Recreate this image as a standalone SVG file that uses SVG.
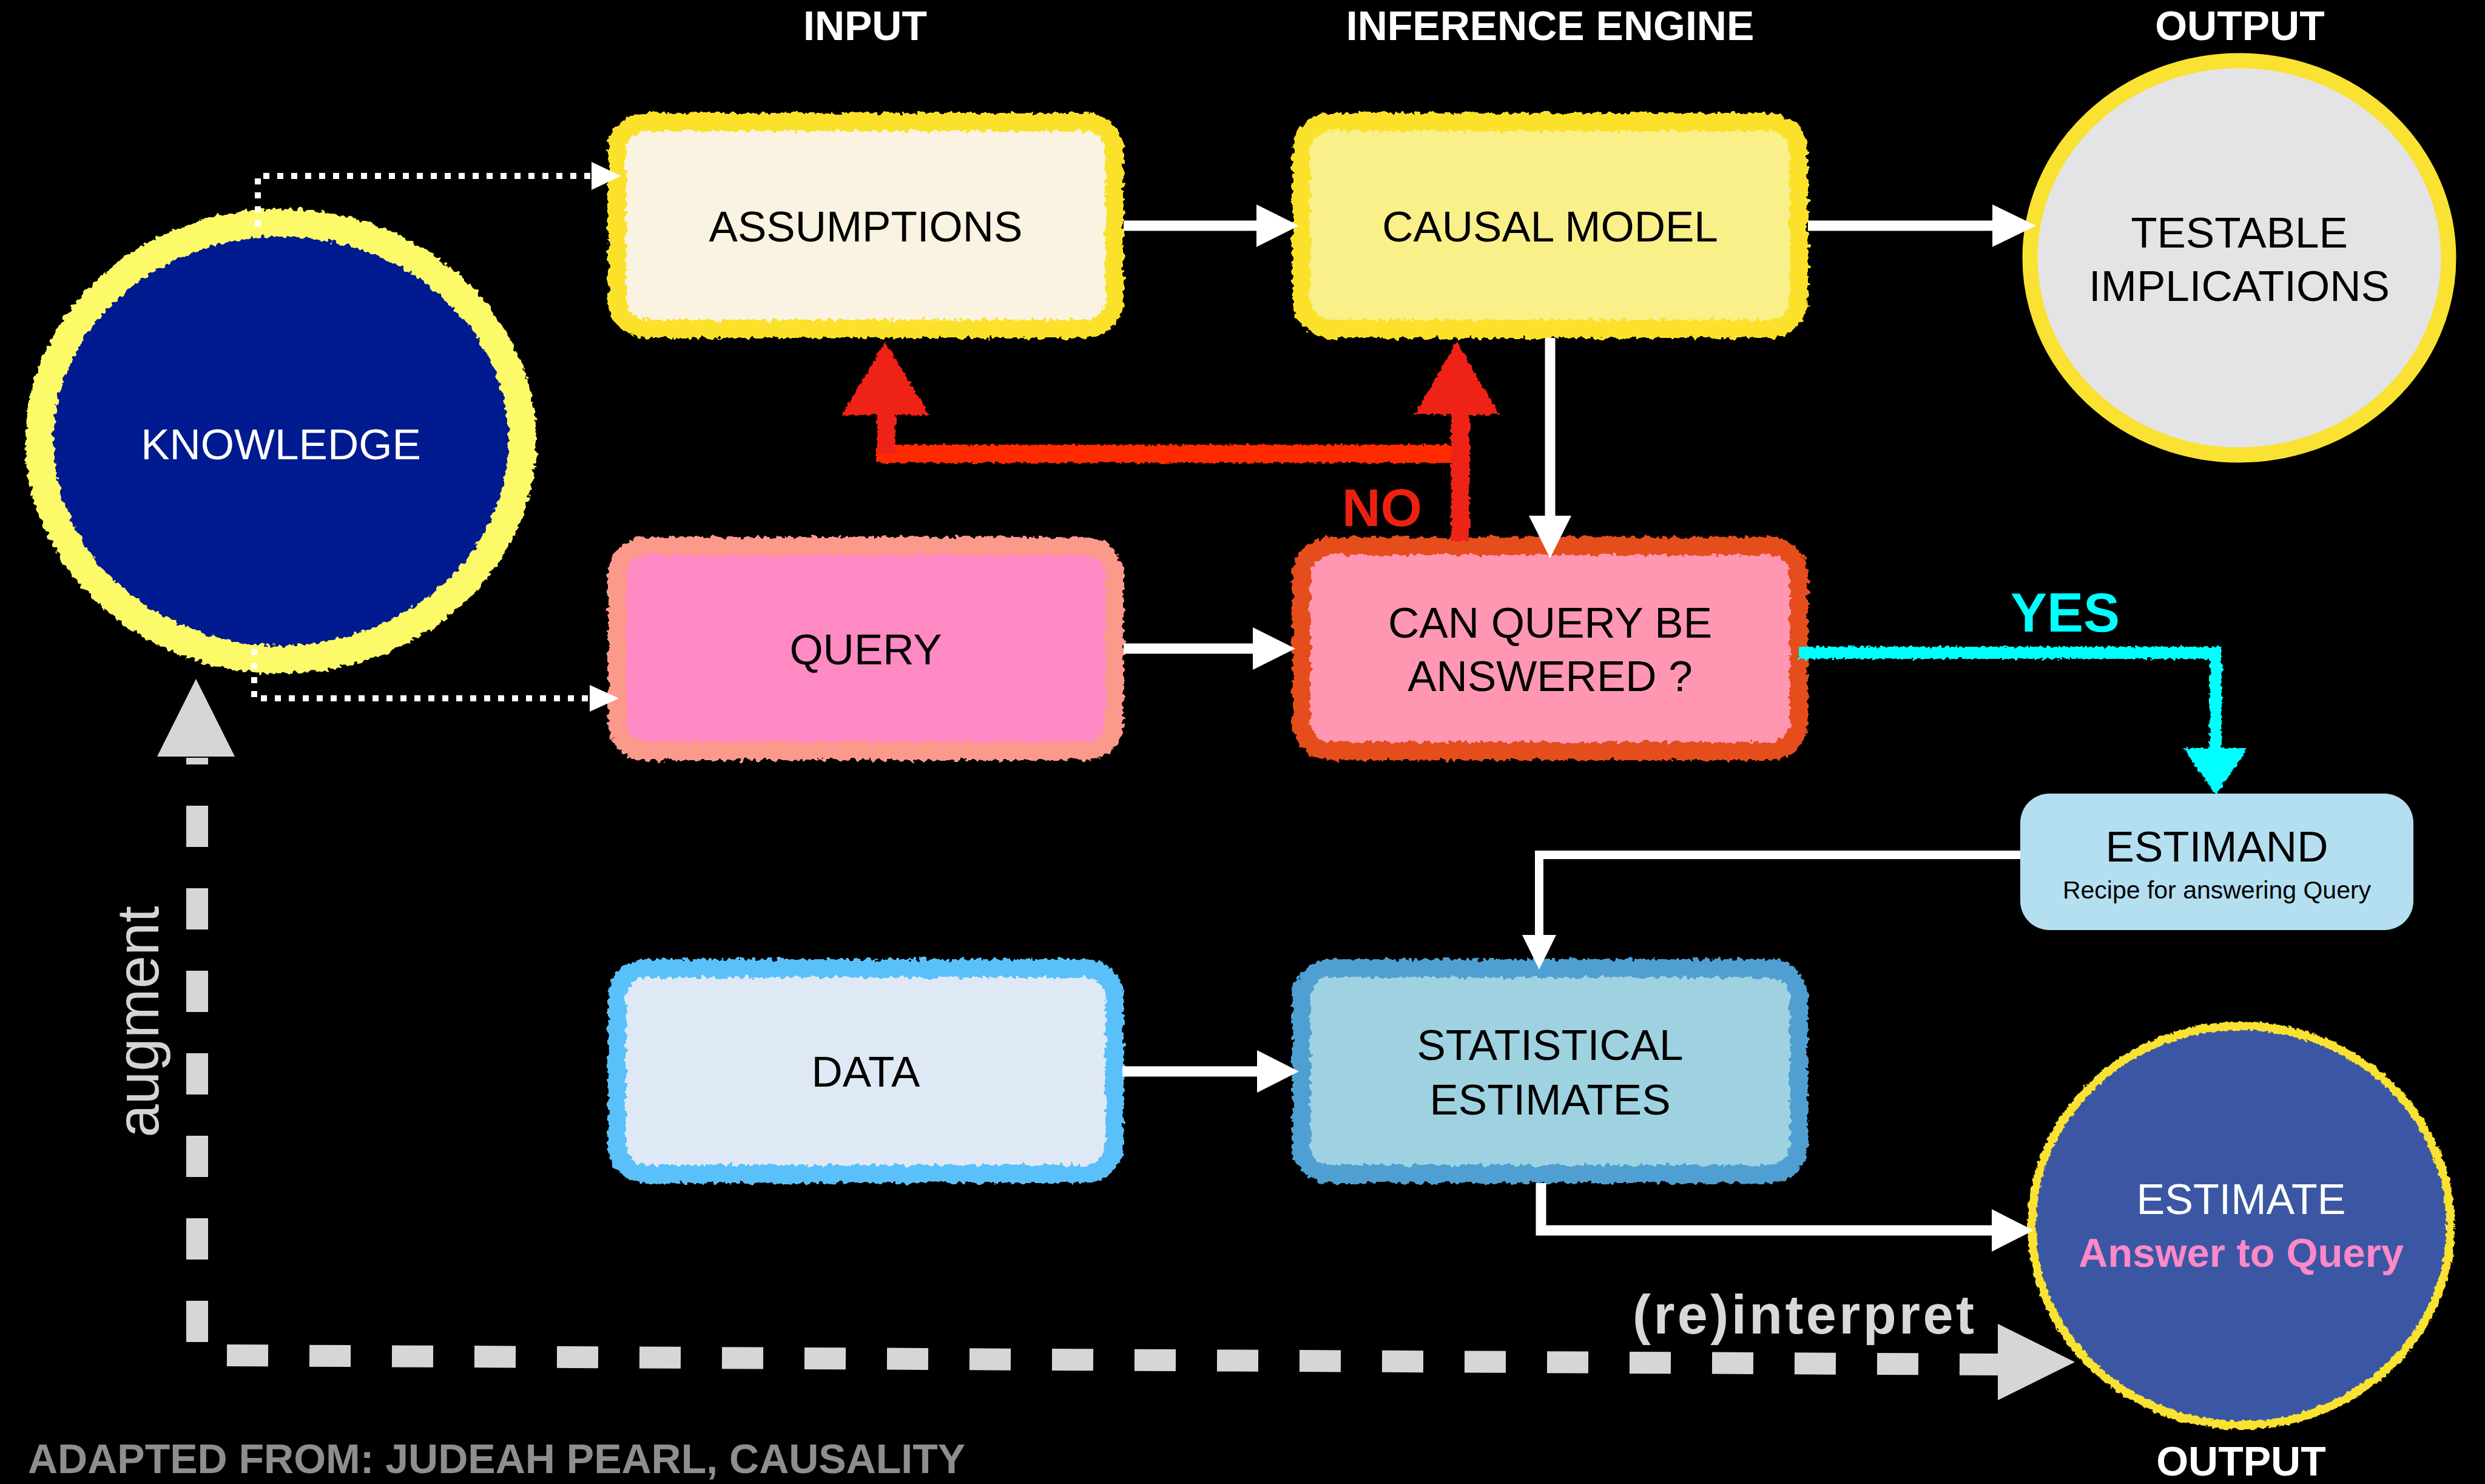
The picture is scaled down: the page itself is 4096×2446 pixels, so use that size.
<svg xmlns="http://www.w3.org/2000/svg" width="4096" height="2446" viewBox="0 0 4096 2446">
<defs>
<filter id="chalk" filterUnits="userSpaceOnUse" x="0" y="0" width="4096" height="2446">
<feTurbulence type="fractalNoise" baseFrequency="0.11" numOctaves="2" seed="7" result="t"/>
<feDisplacementMap in="SourceGraphic" in2="t" scale="14" xChannelSelector="R" yChannelSelector="G"/>
</filter>
<filter id="chalk2" filterUnits="userSpaceOnUse" x="0" y="0" width="4096" height="2446">
<feTurbulence type="fractalNoise" baseFrequency="0.15" numOctaves="2" seed="3" result="t"/>
<feDisplacementMap in="SourceGraphic" in2="t" scale="9" xChannelSelector="R" yChannelSelector="G"/>
</filter>
</defs>
<style>
.lbl{font-family:"Liberation Sans",Arial,Helvetica,sans-serif;font-size:71px;fill:#000;text-anchor:middle}
.hdr{font-family:"Liberation Sans",Arial,Helvetica,sans-serif;font-size:68px;font-weight:bold;fill:#fff;text-anchor:middle}
.brd{fill:none;stroke-width:30;filter:url(#chalk)}
.wl{stroke:#fff;stroke-width:17;fill:none}
.wa{fill:#fff}
.dot{stroke:#fff;stroke-width:10;stroke-dasharray:10 13;fill:none}
.gd{stroke:#d6d6d6;stroke-width:36;stroke-dasharray:68 68;fill:none}
</style>
<rect x="0" y="0" width="4096" height="2446" fill="#000"/>

<g id="headers">
<text class="hdr" x="1426" y="66">INPUT</text>
<text class="hdr" x="2555" y="66">INFERENCE ENGINE</text>
<text class="hdr" x="3692" y="66">OUTPUT</text>
<text class="hdr" x="3694" y="2432">OUTPUT</text>
<text x="46" y="2428" font-family="Liberation Sans,Arial,sans-serif" font-size="68" font-weight="bold" fill="#8e8e8e">ADAPTED FROM: JUDEAH PEARL, CAUSALITY</text>
</g>

<g id="knowledge">
<ellipse cx="463" cy="727" rx="398" ry="360" fill="#001a8f"/>
<ellipse cx="463" cy="727" rx="398" ry="360" fill="none" stroke="#fdfa6b" stroke-width="46" filter="url(#chalk)"/>
<text class="lbl" x="463" y="757" fill="#fff" style="fill:#fff">KNOWLEDGE</text>
</g>

<g id="assumptions">
<rect x="1017" y="201" width="820" height="341" rx="48" fill="#faf3e1"/>
<rect class="brd" x="1017" y="201" width="820" height="341" rx="48" stroke="#fbe12b"/>
<text class="lbl" x="1427" y="398">ASSUMPTIONS</text>
</g>

<g id="causal-model">
<rect x="2145" y="201" width="820" height="341" rx="48" fill="#f9f08a"/>
<rect class="brd" x="2145" y="201" width="820" height="341" rx="48" stroke="#fbe12b"/>
<text class="lbl" x="2555" y="398">CAUSAL MODEL</text>
</g>

<g id="testable-implications">
<ellipse cx="3691" cy="425" rx="345" ry="325" fill="#e4e4e6" stroke="#f9e231" stroke-width="25"/>
<text class="lbl" x="3691" y="408">TESTABLE</text>
<text class="lbl" x="3691" y="496">IMPLICATIONS</text>
</g>

<g id="query">
<rect x="1017" y="900" width="820" height="338" rx="48" fill="#ff8ac3"/>
<rect class="brd" x="1017" y="900" width="820" height="338" rx="48" stroke="#fb998a"/>
<text class="lbl" x="1427" y="1095">QUERY</text>
</g>

<g id="can-query-be-answered">
<rect x="2145" y="900" width="820" height="338" rx="48" fill="#ff97b3"/>
<rect class="brd" x="2145" y="900" width="820" height="338" rx="48" stroke="#e64d1a"/>
<text class="lbl" x="2555" y="1051">CAN QUERY BE</text>
<text class="lbl" x="2555" y="1139">ANSWERED ?</text>
</g>

<g id="estimand">
<rect x="3330" y="1308" width="648" height="225" rx="48" fill="#b3dff1"/>
<text class="lbl" x="3654" y="1420" font-size="70">ESTIMAND</text>
<text class="lbl" x="3654" y="1481" style="font-size:41px">Recipe for answering Query</text>
</g>

<g id="data">
<rect x="1017" y="1596" width="820" height="339" rx="48" fill="#dfe9f5"/>
<rect class="brd" x="1017" y="1596" width="820" height="339" rx="48" stroke="#5ac0fa"/>
<text class="lbl" x="1427" y="1791">DATA</text>
</g>

<g id="statistical-estimates">
<rect x="2145" y="1596" width="820" height="339" rx="48" fill="#9fd2e0"/>
<rect class="brd" x="2145" y="1596" width="820" height="339" rx="48" stroke="#4f9fd2"/>
<text class="lbl" x="2555" y="1747">STATISTICAL</text>
<text class="lbl" x="2555" y="1837">ESTIMATES</text>
</g>

<g id="estimate">
<ellipse cx="3694" cy="2020" rx="345" ry="329" fill="#3b57a4"/>
<ellipse cx="3694" cy="2020" rx="345" ry="329" fill="none" stroke="#f9e231" stroke-width="14" filter="url(#chalk2)"/>
<text class="lbl" x="3694" y="2001" style="fill:#fff;font-size:70px">ESTIMATE</text>
<text class="lbl" x="3694" y="2088" style="fill:#ff88c8;font-size:67px;font-weight:bold">Answer to Query</text>
</g>

<g id="connectors">
<!-- dotted knowledge -> assumptions / query -->
<path class="dot" d="M425,373 V290 H978"/>
<polygon class="wa" points="975,267 1024,290 975,313"/>
<path class="dot" d="M419,1070 V1151 H975"/>
<polygon class="wa" points="972,1129 1020,1151 972,1173"/>
<!-- assumptions -> causal model -->
<path class="wl" d="M1852,372 H2075"/>
<polygon class="wa" points="2071,337 2141,372 2071,407"/>
<!-- causal model -> testable -->
<path class="wl" d="M2980,372 H3288"/>
<polygon class="wa" points="3284,337 3356,372 3284,407"/>
<!-- causal model -> can query -->
<path class="wl" d="M2555,557 V854"/>
<polygon class="wa" points="2520,850 2590,850 2555,920"/>
<!-- query -> can query -->
<path class="wl" d="M1852,1069 H2069"/>
<polygon class="wa" points="2065,1034 2135,1069 2065,1104"/>
<!-- NO (red) -->
<g filter="url(#chalk2)" fill="#ee2312">
<rect x="1444" y="733" width="979" height="30" fill="#ff2a00"/>
<rect x="1446" y="670" width="30" height="78"/>
<polygon points="1459,564 1532,684 1387,684"/>
<rect x="2392" y="670" width="30" height="222"/>
<polygon points="2401,564 2472,684 2331,684"/>
</g>
<text x="2278" y="867" font-family="Liberation Sans,Arial,sans-serif" font-size="88" font-weight="bold" fill="#ec2010" text-anchor="middle">NO</text>
<!-- YES (cyan) -->
<g filter="url(#chalk2)" fill="#00ffff">
<path d="M2965,1076 H3652 V1240" stroke="#00ffff" stroke-width="20" fill="none"/>
<polygon points="3599,1233 3705,1233 3652,1311"/>
</g>
<text x="3404" y="1041" font-family="Liberation Sans,Arial,sans-serif" font-size="90" font-weight="bold" fill="#00ffff" text-anchor="middle">YES</text>
<!-- estimand -> statistical estimates -->
<path class="wl" d="M3330,1409 H2537 V1545" style="stroke-width:14"/>
<polygon class="wa" points="2509,1541 2565,1541 2537,1598"/>
<!-- data -> statistical estimates -->
<path class="wl" d="M1850,1766 H2076"/>
<polygon class="wa" points="2072,1731 2141,1766 2072,1801"/>
<!-- statistical estimates -> estimate -->
<path class="wl" d="M2540,1950 V2028 H3287"/>
<polygon class="wa" points="3283,1993 3352,2028 3283,2063"/>
<!-- augment / (re)interpret dashed -->
<path class="gd" d="M325,2212 V1249"/>
<polygon points="323,1119 387,1247 259,1247" fill="#d6d6d6"/>
<path class="gd" d="M374,2234 L3293,2249"/>
<polygon points="3293,2182 3420,2245 3293,2308" fill="#d6d6d6"/>
<text transform="translate(261,1684) rotate(-90)" x="0" y="0" font-family="Liberation Sans,Arial,sans-serif" font-size="98" font-weight="300" fill="#d4d4d4" text-anchor="middle">augment</text>
<text x="2691" y="2198" font-family="Liberation Sans,Arial,sans-serif" font-size="90" font-weight="bold" fill="#d8d8d8" textLength="563" lengthAdjust="spacing">(re)interpret</text>
</g>
</svg>
